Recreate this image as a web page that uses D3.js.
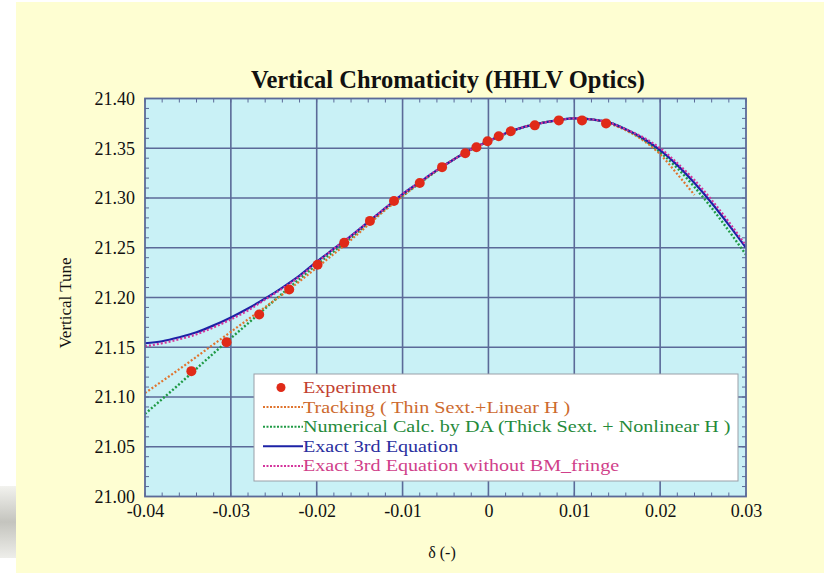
<!DOCTYPE html>
<html>
<head>
<meta charset="utf-8">
<script src="https://cdn.jsdelivr.net/npm/d3@7"></script>
<style>
  html, body { margin: 0; padding: 0; background: #ffffff; }
  svg { display: block; }
</style>
</head>
<body>
<svg id="chart" width="824" height="573"></svg>
<script>
// ---- data ----
const xTicks = [-0.04, -0.03, -0.02, -0.01, 0, 0.01, 0.02, 0.03];
const yTicks = [21.00, 21.05, 21.10, 21.15, 21.20, 21.25, 21.30, 21.35, 21.40];

// measured tune vs momentum deviation
const expDelta = [-0.0346, -0.0305, -0.0267, -0.0232, -0.0199, -0.0168, -0.0138, -0.0110, -0.0080, -0.0054,
                  -0.0027, -0.0014, -0.0001, 0.0012, 0.0026, 0.0054, 0.0082, 0.0109, 0.0137];
const expTune  = [21.126, 21.155, 21.183, 21.208, 21.233, 21.255, 21.277, 21.297, 21.315, 21.331,
                  21.345, 21.351, 21.357, 21.362, 21.367, 21.373, 21.378, 21.378, 21.375];

// Tracking (thin sextupole + linear H)
const trackDelta = [-0.040, -0.036, -0.032, -0.028, -0.024, -0.020, -0.016, -0.012, -0.008, -0.004,
                    0.000, 0.004, 0.008, 0.010, 0.012, 0.014, 0.016, 0.018, 0.020, 0.022, 0.024];
const trackTune  = [21.104, 21.128, 21.153, 21.178, 21.203, 21.230, 21.258, 21.288, 21.315, 21.339,
                    21.357, 21.371, 21.378, 21.380, 21.379, 21.375, 21.368, 21.358, 21.344, 21.324, 21.303];

// Numerical calculation by DA (thick sextupole + nonlinear H)
const daDelta = [-0.040, -0.036, -0.032, -0.028, -0.024, -0.020, -0.016, -0.012, -0.008, -0.004,
                 0.000, 0.004, 0.008, 0.010, 0.012, 0.014, 0.016, 0.018, 0.020, 0.022, 0.024, 0.026, 0.028, 0.030];
const daTune  = [21.083, 21.113, 21.144, 21.174, 21.204, 21.233, 21.260, 21.289, 21.315, 21.339,
                 21.357, 21.371, 21.378, 21.380, 21.379, 21.376, 21.369, 21.359, 21.346, 21.330, 21.311, 21.290, 21.267, 21.243];

// Exact 3rd-order equation
const exactDelta = [-0.040, -0.038, -0.036, -0.034, -0.032, -0.030, -0.028, -0.026, -0.024, -0.022,
                    -0.020, -0.018, -0.016, -0.014, -0.012, -0.010, -0.008, -0.006, -0.004, -0.002,
                    0.000, 0.002, 0.004, 0.006, 0.008, 0.010, 0.012, 0.014, 0.016, 0.018,
                    0.020, 0.022, 0.024, 0.026, 0.028, 0.030];
const exactTune  = [21.154, 21.156, 21.160, 21.165, 21.172, 21.180, 21.189, 21.199, 21.210, 21.222,
                    21.236, 21.249, 21.262, 21.276, 21.290, 21.304, 21.316, 21.328, 21.339, 21.349,
                    21.357, 21.365, 21.371, 21.375, 21.378, 21.380, 21.379, 21.376, 21.369, 21.360,
                    21.348, 21.333, 21.315, 21.295, 21.273, 21.250];

// Exact 3rd-order equation without bending-magnet fringe
const noFringeDelta = exactDelta;
const noFringeTune  = [21.151, 21.154, 21.158, 21.163, 21.170, 21.178, 21.187, 21.198, 21.209, 21.221,
                       21.235, 21.249, 21.262, 21.276, 21.290, 21.304, 21.316, 21.328, 21.339, 21.349,
                       21.357, 21.365, 21.371, 21.375, 21.378, 21.380, 21.379, 21.376, 21.369, 21.361,
                       21.350, 21.335, 21.318, 21.298, 21.276, 21.252];

const legendLabels = [
  "Experiment",
  "Tracking ( Thin Sext.+Linear H )",
  "Numerical Calc. by DA (Thick Sext. + Nonlinear H )",
  "Exact 3rd Equation",
  "Exact 3rd Equation without BM_fringe"
];

// ---- layout ----
const svg = d3.select("#chart");
const W = 824, H = 573;
const plot = { left: 145, right: 746, top: 98.5, bottom: 496.5 };
const serif = "'Liberation Serif', 'DejaVu Serif', serif";

const x = d3.scaleLinear().domain([-0.04, 0.03]).range([plot.left, plot.right]);
const y = d3.scaleLinear().domain([21.00, 21.40]).range([plot.bottom, plot.top]);

const gridColor = "#5b6a98";
const colors = {
  exp: "#e02a18",
  track: "#e0742e",
  da: "#1f9a45",
  exact: "#1d22a6",
  noFringe: "#d4359c"
};
const textColors = ["#c2412f", "#cd6a2e", "#258a3a", "#2a2f9e", "#d03f8a"];

// page background
svg.append("rect").attr("x", 0).attr("y", 0).attr("width", W).attr("height", H).attr("fill", "#ffffff");
svg.append("rect").attr("x", 16).attr("y", 2).attr("width", W - 16).attr("height", H - 2).attr("fill", "#fefed2");
// faint grey patch at lower left edge
const patch = svg.append("defs").append("linearGradient").attr("id", "patch").attr("x1", 0).attr("y1", 0).attr("x2", 0).attr("y2", 1);
patch.append("stop").attr("offset", "0").attr("stop-color", "#f2f2ee");
patch.append("stop").attr("offset", "0.5").attr("stop-color", "#c4c4be");
patch.append("stop").attr("offset", "1").attr("stop-color", "#eeeeea");
svg.append("rect").attr("x", 0).attr("y", 486).attr("width", 16).attr("height", 72).attr("fill", "url(#patch)");

// plot background
svg.append("rect")
  .attr("x", plot.left).attr("y", plot.top)
  .attr("width", plot.right - plot.left).attr("height", plot.bottom - plot.top)
  .attr("fill", "#c9f1f6");

// grid lines
const grid = svg.append("g").attr("stroke", gridColor).attr("stroke-width", 1.6);
grid.selectAll("line.gx").data(xTicks.slice(1, -1)).join("line")
  .attr("x1", d => x(d)).attr("x2", d => x(d))
  .attr("y1", plot.top).attr("y2", plot.bottom);
grid.selectAll("line.gy").data(yTicks.slice(1, -1)).join("line")
  .attr("y1", d => y(d)).attr("y2", d => y(d))
  .attr("x1", plot.left).attr("x2", plot.right);

// minor ticks (inward) on all four sides
const xMinor = d3.range(-0.04, 0.03001, 0.002);
const yMinor = d3.range(21.00, 21.4001, 0.01);
const ticks = svg.append("g").attr("stroke", gridColor).attr("stroke-width", 1);
ticks.selectAll("line.xb").data(xMinor).join("line")
  .attr("x1", d => x(d)).attr("x2", d => x(d)).attr("y1", plot.bottom).attr("y2", plot.bottom - 4);
ticks.selectAll("line.xt").data(xMinor).join("line")
  .attr("x1", d => x(d)).attr("x2", d => x(d)).attr("y1", plot.top).attr("y2", plot.top + 4);
ticks.selectAll("line.yl").data(yMinor).join("line")
  .attr("y1", d => y(d)).attr("y2", d => y(d)).attr("x1", plot.left).attr("x2", plot.left + 4);
ticks.selectAll("line.yr").data(yMinor).join("line")
  .attr("y1", d => y(d)).attr("y2", d => y(d)).attr("x1", plot.right).attr("x2", plot.right - 4);

// axes labels via d3 axes (lines hidden, text only)
const xAxis = svg.append("g")
  .attr("transform", `translate(0,${plot.bottom})`)
  .call(d3.axisBottom(x).tickValues(xTicks).tickSize(0).tickPadding(8)
        .tickFormat(d => d === 0 ? "0" : d3.format(".2f")(d).replace("−", "-")));
const yAxis = svg.append("g")
  .attr("transform", `translate(${plot.left},0)`)
  .call(d3.axisLeft(y).tickValues(yTicks).tickSize(0).tickPadding(10).tickFormat(d3.format(".2f")));
[xAxis, yAxis].forEach(a => {
  a.select(".domain").remove();
  a.selectAll("text").attr("font-family", serif).attr("font-size", 18).attr("fill", "#111");
});

// curves
const lineGen = d3.line().x(d => x(d[0])).y(d => y(d[1])).curve(d3.curveMonotoneX);
const series = [
  { key: "da", xs: daDelta, ys: daTune, dash: "2,2", width: 2.4 },
  { key: "track", xs: trackDelta, ys: trackTune, dash: "2,2", width: 2.2 },
  { key: "exact", xs: exactDelta, ys: exactTune, dash: null, width: 2.2 },
  { key: "noFringe", xs: noFringeDelta, ys: noFringeTune, dash: "2,2", width: 2.2 }
];
const clip = svg.append("defs").append("clipPath").attr("id", "plotclip");
clip.append("rect").attr("x", plot.left).attr("y", plot.top)
  .attr("width", plot.right - plot.left).attr("height", plot.bottom - plot.top);
const curves = svg.append("g").attr("clip-path", "url(#plotclip)");
series.forEach(s => {
  curves.append("path")
    .datum(s.xs.map((v, i) => [v, s.ys[i]]))
    .attr("d", lineGen)
    .attr("fill", "none")
    .attr("stroke", colors[s.key])
    .attr("stroke-width", s.width)
    .attr("stroke-dasharray", s.dash);
});

// experiment points
svg.append("g").selectAll("circle")
  .data(expDelta.map((v, i) => [v, expTune[i]]))
  .join("circle")
  .attr("cx", d => x(d[0])).attr("cy", d => y(d[1]))
  .attr("r", 5).attr("fill", colors.exp);

// plot frame
svg.append("rect")
  .attr("x", plot.left).attr("y", plot.top)
  .attr("width", plot.right - plot.left).attr("height", plot.bottom - plot.top)
  .attr("fill", "none").attr("stroke", gridColor).attr("stroke-width", 1.8);

// title and axis titles
svg.append("text")
  .attr("x", 448).attr("y", 88).attr("text-anchor", "middle")
  .attr("font-family", serif).attr("font-weight", "bold").attr("font-size", 24.5).attr("fill", "#111")
  .text("Vertical Chromaticity (HHLV Optics)");
svg.append("text")
  .attr("transform", "translate(71,303) rotate(-90)").attr("text-anchor", "middle")
  .attr("font-family", serif).attr("font-size", 17).attr("fill", "#111")
  .text("Vertical Tune");
svg.append("text")
  .attr("x", 442).attr("y", 558).attr("text-anchor", "middle")
  .attr("font-family", serif).attr("font-size", 16).attr("fill", "#111")
  .text("δ (-)");

// legend (text set slightly wide, as in the original plotting program)
const lg = svg.append("g");
lg.append("rect").attr("x", 254).attr("y", 374).attr("width", 484).attr("height", 107)
  .attr("fill", "#ffffff").attr("stroke", "#9aa0a8").attr("stroke-width", 1);
const rowY = d => 387.5 + d * 19.6;
const legendKeys = ["exp", "track", "da", "exact", "noFringe"];
legendKeys.forEach((k, i) => {
  if (k === "exp") {
    lg.append("circle").attr("cx", 281).attr("cy", rowY(i)).attr("r", 4.5).attr("fill", colors.exp);
  } else {
    lg.append("line").attr("x1", 263).attr("x2", 303).attr("y1", rowY(i)).attr("y2", rowY(i))
      .attr("stroke", colors[k]).attr("stroke-width", 2)
      .attr("stroke-dasharray", k === "exact" ? null : "2,1.5");
  }
  lg.append("text")
    .attr("transform", `translate(303,${rowY(i) + 5.5}) scale(1.15,1)`)
    .attr("font-family", serif).attr("font-size", 17.5).attr("fill", textColors[i])
    .text(legendLabels[i]);
});
</script>
</body>
</html>
